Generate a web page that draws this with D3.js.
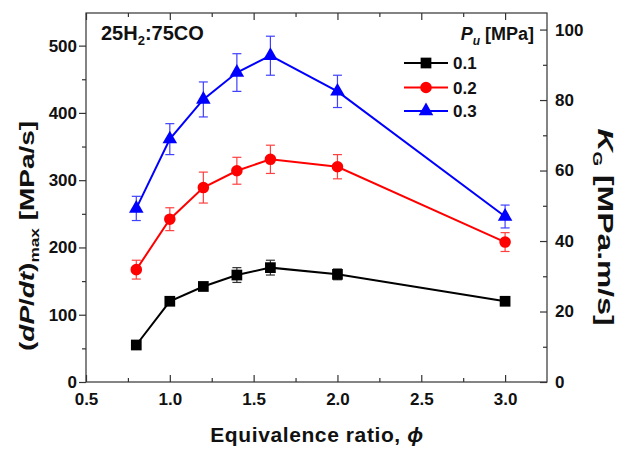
<!DOCTYPE html>
<html>
<head>
<meta charset="utf-8">
<script src="https://cdn.jsdelivr.net/npm/d3@7"></script>
<style>
  html, body { margin: 0; padding: 0; background: #fff; }
  svg { display: block; }
  text { font-family: Arial, "Liberation Sans", sans-serif; font-weight: bold; fill: #111; }
</style>
</head>
<body>
<svg id="chart" width="627" height="449"></svg>
<script>
// Equivalence ratio for every run
const phi = [0.8, 1.0, 1.2, 1.4, 1.6, 2.0, 3.0];

// Maximum rate of pressure rise, MPa/s, for each initial pressure
const rate01 = [55, 120, 142, 159, 170, 160, 120];
const rate02 = [167, 242, 289, 314, 331, 320, 208];
const rate03 = [258, 361, 420, 460, 485, 432, 246];

// Half-width of the error bars, MPa/s
const err01 = [4, 5, 6, 11, 11, 8, 5];
const err02 = [14, 17, 23, 20, 21, 18, 14];
const err03 = [18, 23, 26, 28, 29, 24, 17];

const pressureLabels = ["0.1", "0.2", "0.3"];
const xTicks = [0.5, 1.0, 1.5, 2.0, 2.5, 3.0];
const yLeftTicks = [0, 100, 200, 300, 400, 500];
const yRightTicks = [0, 20, 40, 60, 80, 100];

const series = [
  { label: pressureLabels[0], values: rate01, errors: err01, color: "#000000", errColor: "#333333", shape: d3.symbolSquare, size: 115 },
  { label: pressureLabels[1], values: rate02, errors: err02, color: "#ff0000", errColor: "#ff4040", shape: d3.symbolCircle, size: 105 },
  { label: pressureLabels[2], values: rate03, errors: err03, color: "#0000ff", errColor: "#4040ff", shape: d3.symbolTriangle, size: 92 }
];

const svg = d3.select("#chart");
const plotL = 86, plotR = 547, plotT = 13, plotB = 382;

const x = d3.scaleLinear().domain([0.5, 3.25]).range([plotL, plotR]);
const y = d3.scaleLinear().domain([0, 548.5]).range([plotB, plotT]);
const y2 = d3.scaleLinear().domain([0, 104.7]).range([plotB, plotT]);

const axisColor = "#333";

// frame
svg.append("rect")
  .attr("x", plotL).attr("y", plotT)
  .attr("width", plotR - plotL).attr("height", plotB - plotT)
  .attr("fill", "none").attr("stroke", axisColor).attr("stroke-width", 1.2);

function styleAxis(g) {
  g.select(".domain").remove();
  g.selectAll("line").attr("stroke", axisColor).attr("stroke-width", 1.2);
  g.selectAll("text").style("font-size", "17px").style("font-weight", "bold").attr("fill", "#111");
}

const xMinor = d3.range(0.75, 3.25, 0.5);

// bottom axis: ticks point inwards
svg.append("g").attr("transform", `translate(0,${plotB})`)
  .call(d3.axisBottom(x).tickValues(xTicks).tickFormat(d3.format(".1f")).tickSizeInner(-7).tickSizeOuter(0).tickPadding(11))
  .call(styleAxis);
svg.append("g").attr("transform", `translate(0,${plotB})`)
  .call(d3.axisBottom(x).tickValues(xMinor).tickFormat("").tickSizeInner(-4).tickSizeOuter(0))
  .call(styleAxis);

// top axis mirror
svg.append("g").attr("transform", `translate(0,${plotT})`)
  .call(d3.axisTop(x).tickValues(xTicks).tickFormat("").tickSizeInner(-7).tickSizeOuter(0))
  .call(styleAxis);
svg.append("g").attr("transform", `translate(0,${plotT})`)
  .call(d3.axisTop(x).tickValues(xMinor).tickFormat("").tickSizeInner(-4).tickSizeOuter(0))
  .call(styleAxis);

// left axis: ticks point outwards
svg.append("g").attr("transform", `translate(${plotL},0)`)
  .call(d3.axisLeft(y).tickValues(yLeftTicks).tickSizeInner(7).tickSizeOuter(0).tickPadding(2))
  .call(styleAxis);
svg.append("g").attr("transform", `translate(${plotL},0)`)
  .call(d3.axisLeft(y).tickValues(d3.range(50, 550, 100)).tickFormat("").tickSizeInner(4).tickSizeOuter(0))
  .call(styleAxis);

// right axis: ticks point inwards
svg.append("g").attr("transform", `translate(${plotR},0)`)
  .call(d3.axisRight(y2).tickValues(yRightTicks).tickSizeInner(-7).tickSizeOuter(0).tickPadding(8))
  .call(styleAxis);
svg.append("g").attr("transform", `translate(${plotR},0)`)
  .call(d3.axisRight(y2).tickValues(d3.range(10, 105, 20)).tickFormat("").tickSizeInner(-4).tickSizeOuter(0))
  .call(styleAxis);

// data series
const line = d3.line().x(d => x(d.phi)).y(d => y(d.v));

series.forEach(s => {
  const pts = phi.map((p, i) => ({ phi: p, v: s.values[i], e: s.errors[i] }));
  const g = svg.append("g");

  g.append("path").datum(pts)
    .attr("d", line).attr("fill", "none")
    .attr("stroke", s.color).attr("stroke-width", 2);

  const eb = g.selectAll(".err").data(pts).enter().append("g");
  eb.append("line")
    .attr("x1", d => x(d.phi)).attr("x2", d => x(d.phi))
    .attr("y1", d => y(d.v - d.e)).attr("y2", d => y(d.v + d.e))
    .attr("stroke", s.errColor).attr("stroke-width", 1.2);
  [-1, 1].forEach(sign => {
    eb.append("line")
      .attr("x1", d => x(d.phi) - 4.5).attr("x2", d => x(d.phi) + 4.5)
      .attr("y1", d => y(d.v + sign * d.e)).attr("y2", d => y(d.v + sign * d.e))
      .attr("stroke", s.errColor).attr("stroke-width", 1.2);
  });

  g.selectAll(".mk").data(pts).enter().append("path")
    .attr("d", d3.symbol().type(s.shape).size(s.size))
    .attr("transform", d => `translate(${x(d.phi)},${y(d.v)})`)
    .attr("fill", s.color);
});

// legend
const legend = svg.append("g");
const legRow = [63, 87.5, 111];
legend.append("text")
  .attr("x", 534).attr("y", 40).attr("text-anchor", "end")
  .style("font-size", "18px")
  .call(t => {
    t.append("tspan").text("P").style("font-style", "italic");
    t.append("tspan").text("u").style("font-style", "italic").style("font-size", "12px").attr("dy", 5);
    t.append("tspan").text(" [MPa]").attr("dy", -5);
  });
series.forEach((s, i) => {
  legend.append("line")
    .attr("x1", 404).attr("x2", 448).attr("y1", legRow[i]).attr("y2", legRow[i])
    .attr("stroke", s.color).attr("stroke-width", 2);
  legend.append("path")
    .attr("d", d3.symbol().type(s.shape).size(s.size))
    .attr("transform", `translate(426,${legRow[i]})`)
    .attr("fill", s.color);
  legend.append("text")
    .attr("x", 453).attr("y", legRow[i] + 6)
    .style("font-size", "17px").text(s.label);
});

// mixture label
svg.append("text").attr("x", 101).attr("y", 40).style("font-size", "20px")
  .call(t => {
    t.append("tspan").text("25H");
    t.append("tspan").text("2").style("font-size", "13px").attr("dy", 5);
    t.append("tspan").text(":75CO").attr("dy", -5);
  });

// axis titles
svg.append("text").attr("x", 317).attr("y", 442).attr("text-anchor", "middle")
  .style("font-size", "21px").style("letter-spacing", "0.6px")
  .call(t => {
    t.append("tspan").text("Equivalence ratio, ");
    t.append("tspan").text("ϕ").style("font-style", "italic");
  });

// vertical titles are drawn with a wider set width along the reading direction
svg.append("text")
  .attr("transform", "translate(34,236) rotate(-90) scale(1.33,1)")
  .attr("text-anchor", "middle").style("font-size", "21px")
  .call(t => {
    t.append("tspan").text("(");
    t.append("tspan").text("dP").style("font-style", "italic");
    t.append("tspan").text("/");
    t.append("tspan").text("dt").style("font-style", "italic");
    t.append("tspan").text(")");
    t.append("tspan").text("max").style("font-size", "13px").attr("dy", 5);
    t.append("tspan").text(" [MPa/s]").attr("dy", -5);
  });

svg.append("text")
  .attr("transform", "translate(598,227) rotate(90) scale(1.45,1)")
  .attr("text-anchor", "middle").style("font-size", "22px")
  .call(t => {
    t.append("tspan").text("K").style("font-style", "italic");
    t.append("tspan").text("G").style("font-size", "13px").attr("dy", 5);
    t.append("tspan").text(" [MPa.m/s]").attr("dy", -5);
  });
</script>
</body>
</html>
